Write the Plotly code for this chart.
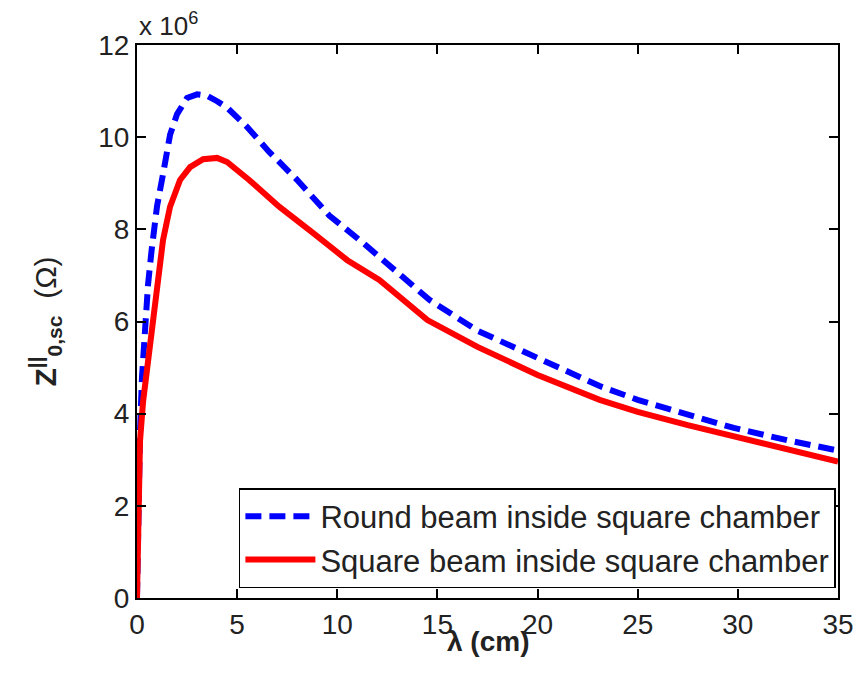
import plotly.graph_objects as go

# wavelength (cm) and longitudinal space-charge impedance (units of 1e6 Ohm)
x_round = [0.0, 0.05, 0.15, 0.25, 0.4, 0.55, 0.73, 1.0, 1.3, 1.65, 2.0, 2.5, 3.0,
           3.5, 4.0, 4.5, 5.5, 6.6, 8.0, 9.6, 11.3, 13.0, 14.6, 17.0, 20.0, 23.1,
           25.0, 27.5, 29.8, 32.5, 35.0]
z_round = [0.0, 1.9, 3.6, 4.8, 5.9, 6.8, 7.55, 8.5, 9.2, 10.05, 10.5, 10.85, 10.93,
           10.9, 10.78, 10.64, 10.22, 9.68, 9.07, 8.3, 7.7, 7.05, 6.47, 5.8, 5.2, 4.6,
           4.3, 3.98, 3.69, 3.42, 3.2]

x_square = [0.0, 0.05, 0.15, 0.3, 0.48, 0.8, 1.15, 1.3, 1.65, 2.15, 2.65, 3.3, 4.0,
            4.5, 5.6, 7.1, 8.8, 10.5, 12.1, 14.5, 17.0, 20.0, 23.1, 25.0, 27.5, 29.8,
            32.5, 35.0]
z_square = [0.0, 1.8, 3.4, 4.25, 4.88, 6.18, 7.45, 7.77, 8.49, 9.07, 9.35, 9.52, 9.55,
            9.46, 9.07, 8.49, 7.92, 7.33, 6.9, 6.03, 5.45, 4.84, 4.3, 4.04, 3.75, 3.5,
            3.22, 2.96]

names = ["Round beam inside square chamber", "Square beam inside square chamber"]

FONT = "Arial, Liberation Sans, sans-serif"
TXT = "#222222"

fig = go.Figure()
fig.add_trace(go.Scatter(x=x_round, y=z_round, mode="lines", name=names[0],
                         line=dict(color="#0000ff", width=6, dash="16px,8px")))
fig.add_trace(go.Scatter(x=x_square, y=z_square, mode="lines", name=names[1],
                         line=dict(color="#ff0000", width=6)))

fig.update_xaxes(range=[0, 35], tick0=0, dtick=5, tickmode="linear",
                 showgrid=False, zeroline=False, showline=True, linecolor="black",
                 linewidth=2, mirror="ticks", ticks="inside", ticklen=9,
                 tickwidth=2, tickcolor="black",
                 tickfont=dict(family=FONT, size=28, color=TXT))
fig.update_yaxes(range=[0, 12], tick0=0, dtick=2, tickmode="linear",
                 showgrid=False, zeroline=False, showline=True, linecolor="black",
                 linewidth=2, mirror="ticks", ticks="inside", ticklen=9,
                 tickwidth=2, tickcolor="black",
                 tickfont=dict(family=FONT, size=28, color=TXT))

fig.update_layout(
    width=865, height=676,
    margin=dict(l=137, r=27, t=45, b=78),
    paper_bgcolor="white", plot_bgcolor="white",
    font=dict(family=FONT, color=TXT),
    showlegend=True,
    legend=dict(x=0.997, y=0.018, xanchor="right", yanchor="bottom",
                bgcolor="white", bordercolor="black", borderwidth=1.5,
                font=dict(family=FONT, size=31, color=TXT),
                tracegroupgap=0, itemwidth=70),
    annotations=[
        dict(text="x 10<sup>6</sup>", x=0, y=1.0, xref="paper", yref="paper",
             xanchor="left", yanchor="bottom", showarrow=False, yshift=2,
             font=dict(family=FONT, size=26, color=TXT)),
        dict(text="<b>λ (cm)</b>", x=0.5, y=0, xref="paper", yref="paper",
             xanchor="center", yanchor="top", showarrow=False, yshift=-26,
             font=dict(family=FONT, size=28, color=TXT)),
        dict(text="<b>Z<sup>||</sup><sub>0,sc</sub></b>  (Ω)", x=0, y=0.5,
             xref="paper", yref="paper", textangle=-90, showarrow=False,
             xanchor="center", yanchor="middle", xshift=-92,
             font=dict(family=FONT, size=30, color=TXT)),
    ],
)

fig.write_html("out.html")
